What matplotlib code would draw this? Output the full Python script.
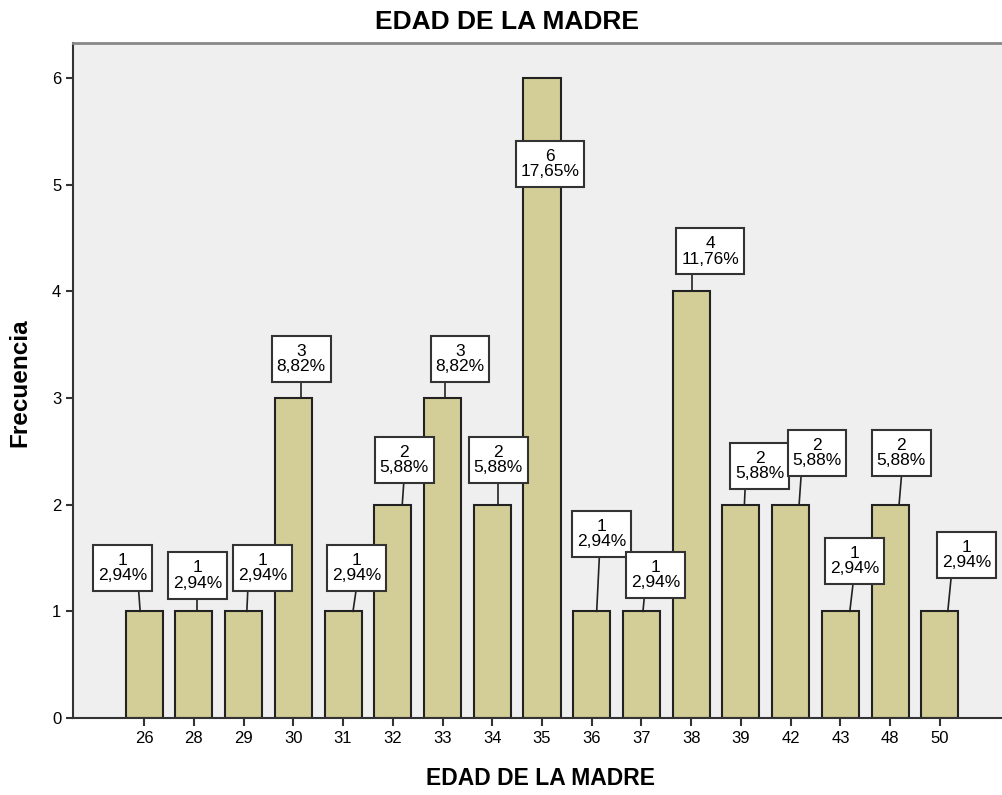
import matplotlib.pyplot as plt
import numpy as np

plt.rcParams['font.family'] = ['Liberation Sans', 'DejaVu Sans']

edades = ['26', '28', '29', '30', '31', '32', '33', '34', '35',
          '36', '37', '38', '39', '42', '43', '48', '50']
frecuencia = [1, 1, 1, 3, 1, 2, 3, 2, 6, 1, 1, 4, 2, 2, 1, 2, 1]

# where each label box sits (x offset from bar, y in data units)
label_dx = [-0.43, 0.075, 0.38, 0.156, 0.28, 0.226, 0.35, 0.116, 0.16,
            0.206, 0.29, 0.38, 0.38, 0.53, 0.29, 0.22, 0.54]
label_y = [1.406, 1.336, 1.406, 3.365, 1.406, 2.418, 3.365, 2.418, 5.197,
           1.724, 1.34, 4.377, 2.362, 2.484, 1.471, 2.484, 1.528]
# leader line x offsets (top end, bar end)
leader_top = [-0.12, 0.065, 0.09, 0.15, 0.28, 0.23, 0.05, 0.11, 0,
              0.16, 0.07, 0.01, 0.09, 0.22, 0.27, 0.24, 0.24]
leader_bot = [-0.08, 0.065, 0.065, 0.15, 0.2, 0.19, 0.05, 0.11, 0,
              0.1, 0.03, 0.01, 0.07, 0.17, 0.19, 0.18, 0.16]

total = sum(frecuencia)
x = np.arange(len(edades))

fig = plt.figure(figsize=(10.03, 7.95), dpi=100)
ax = fig.add_axes([0.0728, 0.0969, 0.9272, 0.849])
ax.set_facecolor('#EFEFEF')

ax.bar(x, frecuencia, width=0.745, color='#D3CE97', edgecolor='#222222', linewidth=1.5, zorder=2)

for i, f in enumerate(frecuencia):
    pct = f'{100 * f / total:.2f}'.replace('.', ',') + '%'
    bx = x[i] + label_dx[i]
    by = label_y[i]
    ax.text(bx, by, f'{f}\n{pct}', ha='center', va='center', fontsize=12.5,
            linespacing=1.05, zorder=4,
            bbox=dict(boxstyle='square,pad=0.28', fc='white', ec='#333333', lw=1.5,
                      mutation_aspect=1.6))
    if by > f:
        ax.plot([x[i] + leader_top[i], x[i] + leader_bot[i]], [by - 0.15, f],
                color='#222222', lw=1.2, zorder=3)

ax.set_xlim(-1.43, 17.27)
ax.set_ylim(0, 6.33)
ax.set_xticks(x)
ax.set_xticklabels(edades, fontsize=12)
ax.set_yticks(range(7))
ax.tick_params(axis='y', labelsize=12, length=5, width=1.5, color='#333333')
ax.tick_params(axis='x', length=6, width=1.5, color='#333333')

ax.spines['right'].set_visible(False)
ax.spines['top'].set_color('#888888')
ax.spines['top'].set_linewidth(2)
ax.spines['left'].set_color('#333333')
ax.spines['left'].set_linewidth(1.5)
ax.spines['bottom'].set_color('#333333')
ax.spines['bottom'].set_linewidth(1.5)

fig.text(0.505, 0.972, 'EDAD DE LA MADRE', ha='center', va='center', fontsize=19, fontweight='bold')
fig.text(0.539, 0.021, 'EDAD DE LA MADRE', ha='center', va='center', fontsize=16.5, fontweight='bold')
fig.text(0.02, 0.519, 'Frecuencia', ha='center', va='center', rotation=90, fontsize=17.5, fontweight='bold')

plt.savefig('out.png', dpi=100)
plt.close()
